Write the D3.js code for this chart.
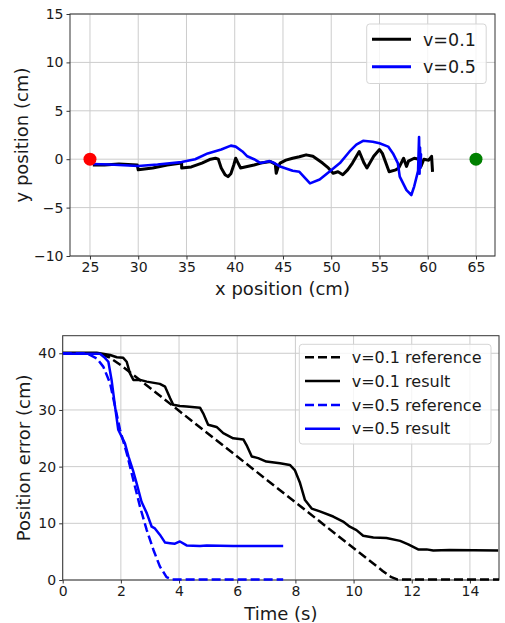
<!DOCTYPE html>
<html>
<head>
<meta charset="utf-8">
<script src="https://cdn.jsdelivr.net/npm/d3@7"></script>
<style>
  body { margin: 0; background: #fff; }
  svg { font-family: "DejaVu Sans", sans-serif; }
</style>
</head>
<body>
<div id="chart"></div>
<script>
// ---- data ----
// top panel: path of the robot, [x cm, y cm]
var pathV01 = [
  [25.3,-0.6],[26.5,-0.6],[28,-0.5],[29.9,-0.6],[30.0,-1.1],[31.5,-0.9],[33,-0.6],[34.5,-0.4],
  [34.5,-0.9],[35.5,-0.8],[36.6,-0.4],[37.5,0],[38,0.1],[38.3,0],[38.6,-0.9],[39.0,-1.6],
  [39.3,-1.8],[39.6,-1.5],[39.9,-0.6],[40.1,0.1],[40.3,-0.3],[40.6,-0.9],[41.3,-0.75],[42,-0.6],
  [42.7,-0.4],[43.7,-0.25],[44.2,-0.5],[44.3,-1.45],[44.5,-0.8],[44.7,-0.4],[45.3,-0.1],[46,0.1],
  [46.7,0.25],[47.4,0.45],[48.1,0.3],[49.1,-0.4],[49.7,-0.9],[50.2,-1.45],[50.7,-1.3],[51.2,-1.6],
  [51.7,-1.1],[52.2,-0.4],[52.9,0.8],[53.4,-0.4],[53.7,-0.9],[54.4,0.3],[55,1.0],[55.3,0.6],
  [56,-1.3],[56.7,-1.1],[57,-0.9],[57.5,0.1],[57.8,-0.75],[58,-0.2],[58.6,0.1],[59.1,0],
  [59.3,-0.75],[59.6,0],[60.1,-0.1],[60.4,0.3],[60.5,-1.3]
];
var pathV05 = [
  [25.3,-0.5],[27,-0.55],[30,-0.7],[32,-0.55],[34.5,-0.3],[35.9,0],[37.2,0.6],[38.6,1.0],
  [39.6,1.4],[40.1,1.3],[40.8,0.8],[41.3,0.3],[42,0],[42.7,-0.4],[43.6,-0.2],[44.1,-0.4],
  [44.7,-0.75],[46,-1.2],[46.7,-1.3],[47.8,-2.5],[48.8,-2.1],[49.8,-1.3],[50.9,-0.4],[51.9,0.8],
  [52.6,1.5],[53.3,1.9],[54.3,1.8],[55,1.65],[55.9,1.3],[56.4,0.6],[56.9,-0.4],[57.1,-1.8],
  [57.8,-3.2],[58.3,-3.7],[58.6,-2.8],[59.0,-1.2],[59.1,2.3],[59.15,-1.5],[59.2,1.2],
  [59.25,-0.9],[59.3,0.5],[59.2,-0.3],[59.3,0]
];
var startPoint = [25, 0];
var goalPoint = [65, 0];
var topLegend = ["v=0.1", "v=0.5"];

// bottom panel: position error over time, [t s, error cm]
var refV01 = [
  [0,40],[1.2,40],[1.6,39.3],[2.0,37.9],[2.5,35.9],[11.0,1.6],[11.3,0.5],[11.5,0.1],[15,0.1]
];
var resV01 = [
  [0,40.1],[1.17,40.1],[1.63,39.7],[1.86,39.3],[2.08,39.2],[2.2,38.5],[2.31,36.5],[2.43,35.3],
  [2.66,35.3],[2.89,35],[3.34,34.6],[3.52,34.1],[3.69,32.1],[3.8,30.9],[4.03,30.7],[4.26,30.6],
  [4.72,30.4],[4.83,29.4],[5.0,27.4],[5.29,27],[5.52,25.9],[5.86,25],[6.21,24.8],[6.32,23.8],
  [6.5,21.8],[6.72,21.5],[7.0,20.9],[7.47,20.6],[7.81,20.3],[7.98,19.4],[8.16,17.1],[8.33,14.1],
  [8.56,12.6],[8.84,12.1],[9.3,11.2],[9.64,10.3],[9.87,9.4],[10.1,8.8],[10.33,7.8],[10.68,7.5],
  [11.13,7.4],[11.6,6.9],[11.88,6.3],[12.22,5.4],[12.51,5.4],[12.74,5.2],[13.3,5.3],[14.97,5.2]
];
var refV05 = [
  [0,40],[0.82,40],[1.17,39.1],[1.4,37.6],[1.63,34.7],[1.8,30.6],[1.97,26.5],[2.2,22.4],
  [2.43,17.6],[2.66,12.9],[2.89,8.8],[3.12,5.3],[3.34,2.4],[3.57,0.5],[3.75,0.1],[7.58,0.1]
];
var resV05 = [
  [0,39.9],[1.28,39.9],[1.45,39.2],[1.57,38.5],[1.68,35.3],[1.8,30.6],[1.91,26.5],[2.14,24.1],
  [2.26,21.8],[2.43,19.1],[2.54,17.1],[2.71,13.8],[2.89,11.8],[3.06,9.4],[3.17,9.1],[3.34,8.0],
  [3.52,6.6],[3.69,6.5],[3.86,6.4],[4.03,6.8],[4.26,6.1],[4.72,6.0],[4.95,6.1],[5.86,6.0],[7.58,6.0]
];
var bottomLegend = ["v=0.1 reference", "v=0.1 result", "v=0.5 reference", "v=0.5 result"];

var xTicksTop = [25, 30, 35, 40, 45, 50, 55, 60, 65];
var yTicksTop = [-10, -5, 0, 5, 10, 15];
var xTicksBottom = [0, 2, 4, 6, 8, 10, 12, 14];
var yTicksBottom = [0, 10, 20, 30, 40];

// ---- drawing ----
var width = 505, height = 623;
var tickSize = 14, labelSize = 18;
var textColor = "#1a1a1a", gridColor = "#cccccc", spineColor = "#333";

var svg = d3.select("#chart").append("svg")
  .attr("width", width)
  .attr("height", height);

function panel(box, xDomain, yDomain, xTicks, yTicks, xLabel, yLabel) {
  var x = d3.scaleLinear().domain(xDomain).range([box.left, box.right]);
  var y = d3.scaleLinear().domain(yDomain).range([box.bottom, box.top]);
  var g = svg.append("g");

  // grid
  g.append("g").selectAll("line").data(xTicks).enter().append("line")
    .attr("x1", d => x(d)).attr("x2", d => x(d))
    .attr("y1", box.top).attr("y2", box.bottom)
    .attr("stroke", gridColor).attr("stroke-width", 1);
  g.append("g").selectAll("line").data(yTicks).enter().append("line")
    .attr("y1", d => y(d)).attr("y2", d => y(d))
    .attr("x1", box.left).attr("x2", box.right)
    .attr("stroke", gridColor).attr("stroke-width", 1);

  // axes
  var xAxis = d3.axisBottom(x).tickValues(xTicks).tickSizeOuter(0).tickSize(3.5).tickPadding(3);
  var yAxis = d3.axisLeft(y).tickValues(yTicks).tickSizeOuter(0).tickSize(3.5).tickPadding(3);
  var gx = g.append("g").attr("transform", `translate(0,${box.bottom})`).call(xAxis);
  var gy = g.append("g").attr("transform", `translate(${box.left},0)`).call(yAxis);
  [gx, gy].forEach(function(a) {
    a.select(".domain").remove();
    a.selectAll("line").attr("stroke", spineColor);
    a.selectAll("text").attr("fill", textColor).style("font-size", tickSize + "px")
      .style("font-family", "DejaVu Sans");
  });

  // spines
  g.append("rect")
    .attr("x", box.left).attr("y", box.top)
    .attr("width", box.right - box.left).attr("height", box.bottom - box.top)
    .attr("fill", "none").attr("stroke", spineColor).attr("stroke-width", 1);

  // labels
  g.append("text")
    .attr("x", (box.left + box.right) / 2).attr("y", box.xLabelY)
    .attr("text-anchor", "middle").attr("fill", textColor)
    .style("font-size", labelSize + "px").text(xLabel);
  g.append("text")
    .attr("transform", `translate(${box.yLabelX},${(box.top + box.bottom) / 2}) rotate(-90)`)
    .attr("text-anchor", "middle").attr("fill", textColor)
    .style("font-size", labelSize + "px").text(yLabel);

  return { x: x, y: y, g: g };
}

// clip paths
var defs = svg.append("defs");

// top panel
var topBox = { left: 70, right: 495, top: 14, bottom: 256, xLabelY: 295, yLabelX: 28 };
var topP = panel(topBox, [22.93, 66.97], [-10, 15], xTicksTop, yTicksTop,
  "x position (cm)", "y position (cm)");
defs.append("clipPath").attr("id", "clipTop").append("rect")
  .attr("x", topBox.left).attr("y", topBox.top)
  .attr("width", topBox.right - topBox.left).attr("height", topBox.bottom - topBox.top);

var lineTop = d3.line().x(d => topP.x(d[0])).y(d => topP.y(d[1]));
var topLines = topP.g.append("g").attr("clip-path", "url(#clipTop)");
topLines.append("path").datum(pathV01).attr("d", lineTop)
  .attr("fill", "none").attr("stroke", "#000").attr("stroke-width", 3)
  .attr("stroke-linejoin", "round");
topLines.append("path").datum(pathV05).attr("d", lineTop)
  .attr("fill", "none").attr("stroke", "#0000ff").attr("stroke-width", 2.6)
  .attr("stroke-linejoin", "round");
topP.g.append("circle").attr("cx", topP.x(startPoint[0])).attr("cy", topP.y(startPoint[1]))
  .attr("r", 6.5).attr("fill", "#ff0000");
topP.g.append("circle").attr("cx", topP.x(goalPoint[0])).attr("cy", topP.y(goalPoint[1]))
  .attr("r", 6.5).attr("fill", "#008000");

// top legend
var tl = topP.g.append("g");
tl.append("rect").attr("x", 366.7).attr("y", 24).attr("width", 119.5).attr("height", 59.5)
  .attr("rx", 3).attr("fill", "#fff").attr("fill-opacity", 0.8)
  .attr("stroke", "#d5d5d5").attr("stroke-width", 1);
var topColors = ["#000", "#0000ff"];
topLegend.forEach(function(name, i) {
  var yy = 39.3 + i * 27.4;
  tl.append("line").attr("x1", 372).attr("x2", 411).attr("y1", yy).attr("y2", yy)
    .attr("stroke", topColors[i]).attr("stroke-width", 3);
  tl.append("text").attr("x", 423).attr("y", yy).attr("dy", "0.36em")
    .attr("fill", textColor).style("font-size", "17.5px").text(name);
});

// bottom panel
var botBox = { left: 62.7, right: 499, top: 335.7, bottom: 580, xLabelY: 620, yLabelX: 30 };
var botP = panel(botBox, [0, 15], [0, 43.1], xTicksBottom, yTicksBottom,
  "Time (s)", "Position error (cm)");
defs.append("clipPath").attr("id", "clipBot").append("rect")
  .attr("x", botBox.left).attr("y", botBox.top - 2)
  .attr("width", botBox.right - botBox.left).attr("height", botBox.bottom - botBox.top + 4);

var lineBot = d3.line().x(d => botP.x(d[0])).y(d => botP.y(d[1]));
var series = [
  { data: refV01, color: "#000", dash: "9,4" },
  { data: resV01, color: "#000", dash: null },
  { data: refV05, color: "#0000ff", dash: "9,4" },
  { data: resV05, color: "#0000ff", dash: null }
];
var botLines = botP.g.append("g").attr("clip-path", "url(#clipBot)");
series.forEach(function(s) {
  botLines.append("path").datum(s.data).attr("d", lineBot)
    .attr("fill", "none").attr("stroke", s.color).attr("stroke-width", 2.5)
    .attr("stroke-dasharray", s.dash).attr("stroke-linejoin", "round");
});

// bottom legend
var bl = botP.g.append("g");
bl.append("rect").attr("x", 299.3).attr("y", 344.3).attr("width", 191.7).attr("height", 99.7)
  .attr("rx", 3).attr("fill", "#fff").attr("fill-opacity", 0.8)
  .attr("stroke", "#d5d5d5").attr("stroke-width", 1);
bottomLegend.forEach(function(name, i) {
  var yy = 357.3 + i * 23.8;
  bl.append("line").attr("x1", 305).attr("x2", 340).attr("y1", yy).attr("y2", yy)
    .attr("stroke", series[i].color).attr("stroke-width", 2.5)
    .attr("stroke-dasharray", series[i].dash);
  bl.append("text").attr("x", 351.7).attr("y", yy).attr("dy", "0.36em")
    .attr("fill", textColor).style("font-size", "16px").text(name);
});
</script>
</body>
</html>
